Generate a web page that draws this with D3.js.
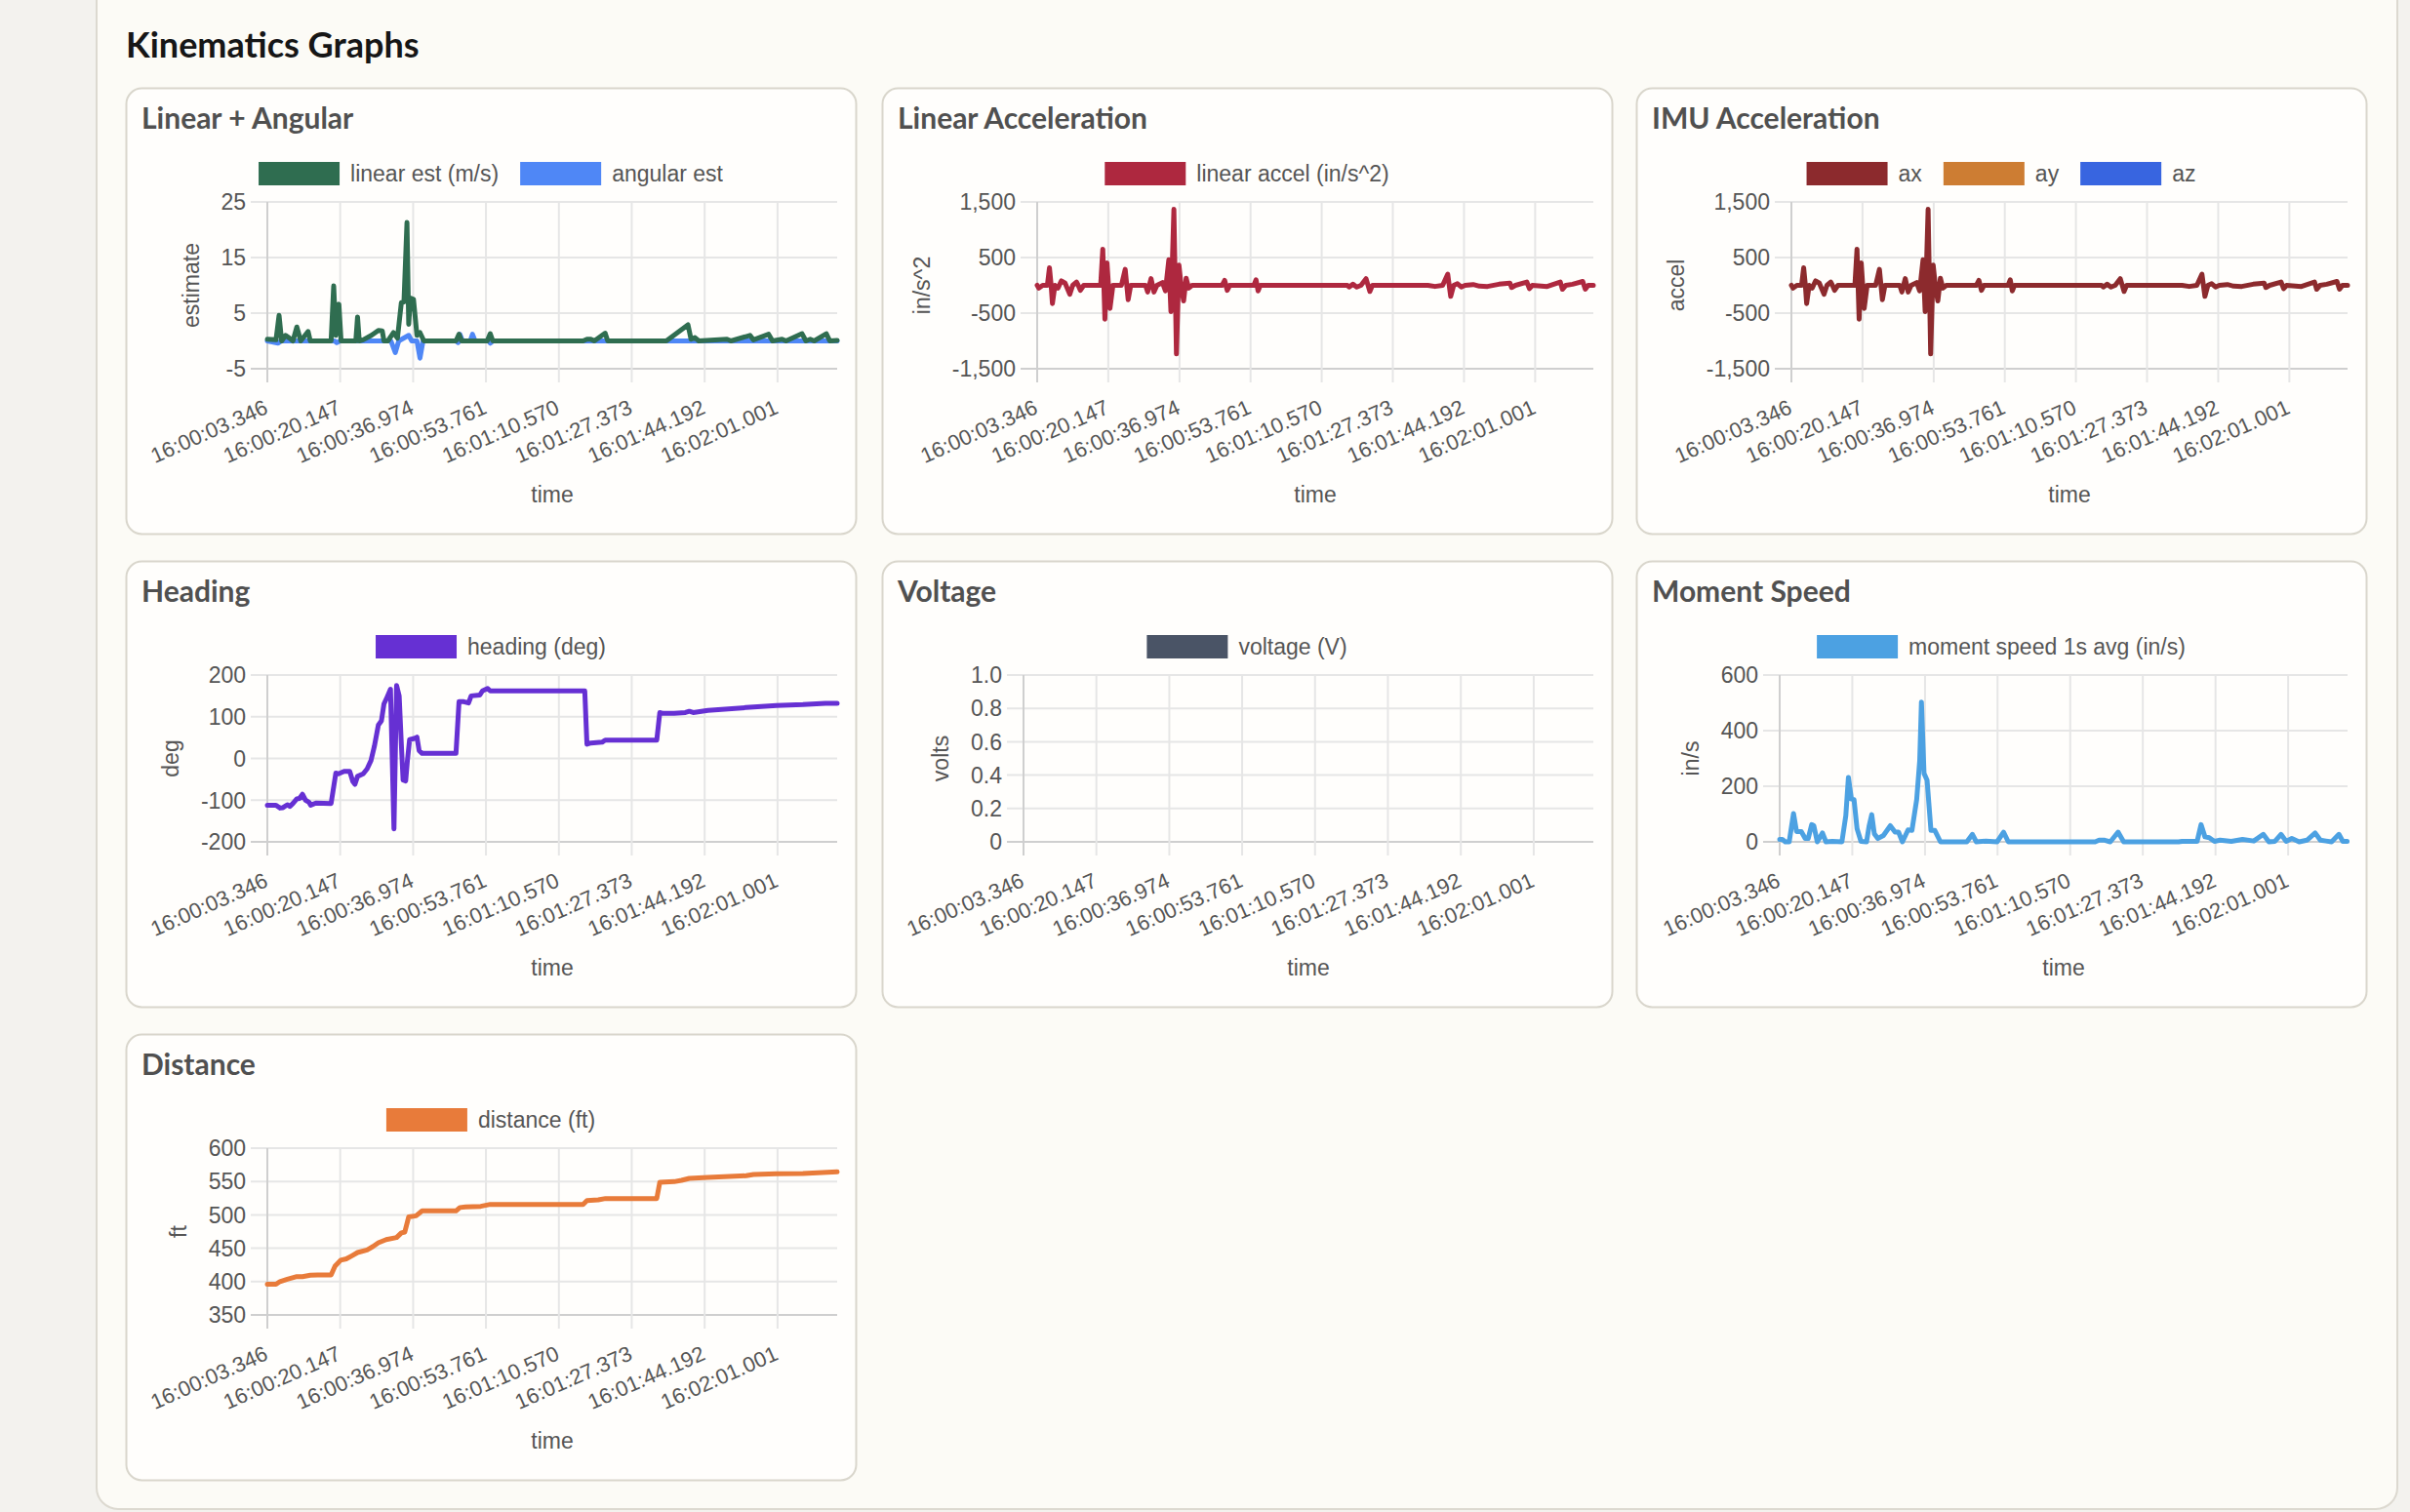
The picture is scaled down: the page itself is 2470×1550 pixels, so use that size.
<!DOCTYPE html>
<html>
<head>
<meta charset="utf-8">
<script src="https://cdn.jsdelivr.net/npm/d3@7"></script>
<style>
	body { margin: 0; background: #f3f2ee; }
	svg { display: block; }
	.tick-text { font-family: "Liberation Sans", Arial, Helvetica, sans-serif; font-size: 23px; fill: #555; }
	.head { font-family: Lato, "Open Sans", sans-serif; font-weight: 700; }
</style>
</head>
<body>
<svg id="page" width="2470" height="1550"></svg>
<script>

// time labels shown on every x axis
var xTickLabels = ["16:00:03.346", "16:00:20.147", "16:00:36.974", "16:00:53.761",
	"16:01:10.570", "16:01:27.373", "16:01:44.192", "16:02:01.001"];

// [seconds since 16:00:03.346, value]
var linearEst = [[0,0.3],[2.0,0.2],[2.7,4.6],[3.3,0],[4.2,1.0],[5.1,0.5],[5.9,0],[6.8,2.5],[7.7,0],[9.4,1.7],[9.9,0],
	[14.7,0],[15.3,9.9],[15.8,1.0],[16.5,6.6],[17.0,0],[20.4,0],[20.8,4.3],[21.2,0],[22.1,0.2],[24.0,1.0],[25.6,1.9],
	[26.5,1.8],[26.9,0],[27.8,0],[29.1,1.5],[30.0,0.5],[30.9,6.9],[31.5,7.0],[32.2,21.3],[32.6,3.0],[33.0,7.7],[33.7,7.5],
	[34.5,1.0],[35.2,1.5],[36.1,0],[43.5,0],[44.2,1.2],[44.8,0],[50.7,0],[51.4,1.3],[52.0,0],[72.8,0],[73.7,0.3],
	[74.6,0.3],[75.4,0],[77.9,1.4],[78.5,0],[92.0,0],[97.0,2.9],[97.7,0.3],[98.6,0.6],[99.5,0],[106.0,0.3],[106.9,0],
	[111.3,1.0],[112.1,0.2],[115.6,1.2],[116.5,0],[118.7,0.3],[119.6,0],[123.3,1.3],[124.2,0],[125.2,0.3],[126.1,0],
	[128.9,1.3],[129.7,0],[131.4,0.1]];

var angularEst = [[0,0],[2.5,-0.4],[3.2,0],[15.5,0],[16.0,-0.3],[16.8,0],[28.5,0],[29.5,-2.1],[30.3,0],[32.6,1.0],
	[33.3,0],[34.5,0],[35.2,-3.1],[35.9,0],[43.5,0],[44.0,-0.3],[44.4,1.2],[45.0,0],[46.8,0],[47.3,1.2],[47.9,0],
	[51.0,0],[51.4,-0.4],[52.0,0],[131.4,0]];

var linearAccel = [[0,0],[0.4,-50],[1.3,0],[2.4,0],[2.9,316],[3.3,0],[3.6,-328],[4.2,0],[4.9,-50],[5.7,80],[6.6,40],
	[7.7,-160],[8.4,0],[9.3,60],[9.7,0],[10.2,-90],[11.0,0],[15.0,0],[15.5,650],[16.0,-608],[16.5,404],[17.2,-415],
	[17.9,0],[19.9,0],[20.8,287],[21.5,-257],[22.1,0],[25.6,0],[26.1,-120],[26.9,120],[27.6,-120],[28.3,0],[29.6,50],
	[30.3,-100],[31.1,462],[31.6,-474],[32.3,1369],[32.9,-1234],[33.5,363],[34.0,0],[34.6,-281],[35.2,129],[35.8,-50],
	[36.6,0],[43.7,0],[44.3,90],[44.9,-90],[45.5,0],[51.2,0],[51.7,100],[52.2,-100],[52.7,0],[73.3,0],[73.7,-30],
	[74.6,20],[75.5,-30],[76.5,0],[77.7,120],[78.6,-110],[79.2,0],[92.3,0],[94.0,-20],[95.8,0],[97.0,200],[97.7,-199],
	[98.4,0],[99.3,30],[100.2,-30],[101.1,0],[103.0,15],[104.5,-15],[106.4,-20],[109.1,20],[111.7,40],[112.1,-40],
	[113.0,0],[115.7,60],[116.3,-60],[117.0,0],[120.5,-20],[123.6,60],[124.1,-70],[124.9,0],[126.5,20],[128.9,70],
	[129.5,-70],[130.2,0],[131.4,0]];

// IMU ax traces the same shape as linear accel; ay / az have no points on screen
var imuAx = linearAccel.slice();
var imuAy = [];
var imuAz = [];

var heading = [[0,-112],[2.0,-112],[2.9,-119],[3.6,-118],[4.6,-111],[5.2,-115],[5.9,-108],[6.8,-97],[7.4,-96],
	[8.1,-86],[8.8,-100],[9.6,-105],[10.0,-112],[11.2,-107],[14.7,-108],[15.8,-35],[16.4,-37],[17.7,-31],[19.0,-31],
	[19.7,-55],[20.2,-62],[20.8,-43],[22.1,-37],[23.0,-25],[23.9,-5],[24.7,30],[25.6,80],[26.3,90],[26.9,131],
	[27.5,144],[28.4,166],[29.2,-169],[29.8,175],[30.4,150],[30.9,34],[31.3,-52],[31.9,-54],[32.3,-5],[32.8,45],
	[33.9,48],[34.5,51],[35.0,19],[35.7,12],[43.5,12],[44.2,136],[45.3,136],[46.4,133],[47.0,150],[49.0,152],
	[49.6,162],[50.8,168],[51.4,162],[73.2,162],[73.7,34],[74.6,37],[77.2,39],[77.9,44],[89.8,44],[90.5,110],
	[91.2,108],[93.8,108],[96.4,110],[97.3,113],[98.2,110],[101.6,115],[110.4,122],[117.4,127],[123.5,129],
	[128.7,132],[131.4,132]];

var voltage = [];

var momentSpeed = [[0,9],[0.6,9],[1.3,0],[2.2,0],[3.2,102],[3.9,37],[5.0,37],[5.9,12],[6.6,12],[7.4,62],[7.9,58],
	[8.7,0],[9.9,32],[10.7,0],[12.2,2],[14.4,0],[15.3,94],[15.9,232],[16.6,154],[17.2,152],[17.9,47],[18.8,2],
	[20.1,0],[20.7,58],[21.3,98],[21.9,29],[22.7,12],[24.0,23],[25.6,58],[26.7,35],[27.5,35],[28.4,0],[29.7,43],
	[30.6,41],[31.7,152],[32.4,292],[32.8,503],[33.4,246],[34.1,222],[35.0,41],[35.9,41],[37.2,0],[43.3,0],[44.6,27],
	[45.5,0],[47.7,3],[50.3,0],[51.8,35],[52.9,0],[73.0,0],[73.9,6],[75.2,6],[76.5,0],[78.3,35],[79.6,0],[92.3,0],
	[93.1,2],[96.6,2],[97.5,62],[98.4,18],[99.4,15],[100.6,2],[101.9,6],[104.5,2],[107.1,9],[109.7,3],[111.9,27],
	[113.2,0],[114.6,2],[116.0,27],[117.2,2],[118.5,12],[120.2,0],[122.0,6],[123.9,32],[125.1,6],[126.4,3],[127.7,0],
	[129.4,27],[130.3,2],[131.3,2]];

var distance = [[0,396],[2.0,396],[2.9,400],[4.6,403.6],[6.8,407.5],[8.1,407.5],[9.9,409.5],[11.6,410],[14.7,410],
	[15.6,423],[16.9,432],[18.2,434],[19.5,438.7],[20.8,443.6],[23.0,447.5],[24.3,452.3],[25.6,458.2],[27.4,463],
	[29.8,466],[30.9,473],[31.7,474.3],[32.6,497],[34.3,498.6],[35.7,506],[43.5,506],[44.4,511],[45.7,511.8],
	[49.2,512.8],[51.4,515.7],[72.8,515.7],[73.7,521.5],[76.3,522.5],[78.0,524.5],[89.8,524.5],[90.5,548.8],
	[93.8,549.8],[95.5,551.8],[97.3,554.7],[101.6,556],[110.4,558.6],[112.1,560.5],[117.4,561.5],[123.5,562],
	[131.4,564.4]];


var fmtComma = function (d) { return d3.format(",")(d).replace("\u2212", "-"); };
var fmtPlain = function (d) { return String(d); };
var fmtVolt = function (d) { return d === 0 ? "0" : d3.format(".1f")(d); };

var charts = [
	{ title: "Linear + Angular", col: 0, row: 0, yLabel: "estimate", domain: [-5, 25], step: 10, fmt: fmtPlain,
		series: [{ name: "linear est (m/s)", color: "#2f6d50", data: linearEst },
			{ name: "angular est", color: "#4f87f6", data: angularEst }] },
	{ title: "Linear Acceleration", col: 1, row: 0, yLabel: "in/s^2", domain: [-1500, 1500], step: 1000, fmt: fmtComma, plotLeft: 159,
		series: [{ name: "linear accel (in/s^2)", color: "#ae283f", data: linearAccel }] },
	{ title: "IMU Acceleration", col: 2, row: 0, yLabel: "accel", domain: [-1500, 1500], step: 1000, fmt: fmtComma, plotLeft: 159,
		series: [{ name: "ax", color: "#8c2a2d", data: imuAx },
			{ name: "ay", color: "#cd7d33", data: imuAy },
			{ name: "az", color: "#3865e0", data: imuAz }] },
	{ title: "Heading", col: 0, row: 1, yLabel: "deg", domain: [-200, 200], step: 100, fmt: fmtPlain,
		series: [{ name: "heading (deg)", color: "#6630d3", data: heading }] },
	{ title: "Voltage", col: 1, row: 1, yLabel: "volts", domain: [0, 1], step: 0.2, fmt: fmtVolt,
		series: [{ name: "voltage (V)", color: "#4a5466", data: voltage }] },
	{ title: "Moment Speed", col: 2, row: 1, yLabel: "in/s", domain: [0, 600], step: 200, fmt: fmtPlain, plotLeft: 147,
		series: [{ name: "moment speed 1s avg (in/s)", color: "#4ca1e2", data: momentSpeed }] },
	{ title: "Distance", col: 0, row: 2, yLabel: "ft", domain: [350, 600], step: 50, fmt: fmtPlain,
		series: [{ name: "distance (ft)", color: "#e87b3a", data: distance }] }
];

var CARD = { w: 748, h: 457, cols: [129, 904, 1677], rows: [90, 575, 1060] };

function parseClock(s) {
	var p = s.split(":");
	return +p[0] * 3600 + +p[1] * 60 + +p[2];
}
var t0 = parseClock(xTickLabels[0]);
var tickTimes = xTickLabels.map(function (s) { return parseClock(s) - t0; });
var tEnd = d3.max(charts, function (c) {
	return d3.max(c.series, function (s) { return d3.max(s.data, function (d) { return d[0]; }); });
});

var svg = d3.select("#page");

svg.append("rect")
	.attr("width", 2470)
	.attr("height", 1550)
	.attr("fill", "#f3f2ee");

svg.append("rect")
	.attr("x", 99)
	.attr("y", -30)
	.attr("width", 2358)
	.attr("height", 1577)
	.attr("rx", 22)
	.attr("fill", "#fcfbf6")
	.attr("stroke", "#dcd9d0")
	.attr("stroke-width", 2);

svg.append("text")
	.attr("class", "head")
	.attr("x", 129)
	.attr("y", 59)
	.style("font-size", "36px")
	.attr("fill", "#161616")
	.text("Kinematics Graphs");

charts.forEach(drawCard);

function drawCard(c) {
	var g = svg.append("g")
		.attr("transform", "translate(" + CARD.cols[c.col] + "," + CARD.rows[c.row] + ")");

	g.append("rect")
		.attr("x", 0.5)
		.attr("y", 0.5)
		.attr("width", CARD.w)
		.attr("height", CARD.h)
		.attr("rx", 16)
		.attr("fill", "#fffefc")
		.attr("stroke", "#d9d6cc")
		.attr("stroke-width", 2);

	g.append("text")
		.attr("class", "head")
		.attr("x", 16)
		.attr("y", 42)
		.style("font-size", "30px")
		.attr("fill", "#505050")
		.text(c.title);

	var m = { left: c.plotLeft || 145, right: 729, top: 117, bottom: 288 };

	var x = d3.scaleLinear().domain([0, tEnd]).range([m.left, m.right]);
	var y = d3.scaleLinear().domain(c.domain).range([m.bottom, m.top]);
	var yTicks = d3.range(c.domain[0], c.domain[1] + c.step / 2, c.step).map(function (v) { return +v.toFixed(6); });

	// grid
	g.selectAll(".hgrid")
		.data(yTicks)
		.enter().append("line")
		.attr("x1", m.left - 17)
		.attr("x2", m.right)
		.attr("y1", function (d) { return y(d); })
		.attr("y2", function (d) { return y(d); })
		.attr("stroke", function (d, i) { return i === 0 ? "#cfcfcf" : "#e6e6e6"; })
		.attr("stroke-width", 2);

	g.selectAll(".vgrid")
		.data(tickTimes)
		.enter().append("line")
		.attr("x1", function (d) { return x(d); })
		.attr("x2", function (d) { return x(d); })
		.attr("y1", m.top)
		.attr("y2", m.bottom + 14)
		.attr("stroke", function (d, i) { return i === 0 ? "#cfcfcf" : "#e6e6e6"; })
		.attr("stroke-width", 2);

	// y tick labels
	var yl = g.selectAll(".ylab")
		.data(yTicks)
		.enter().append("text")
		.attr("class", "tick-text")
		.attr("x", m.left - 22)
		.attr("y", function (d) { return y(d); })
		.attr("dy", "0.36em")
		.style("text-anchor", "end")
		.text(c.fmt);

	var maxW = 0;
	yl.each(function () { maxW = Math.max(maxW, this.getComputedTextLength()); });

	g.append("text")
		.attr("class", "tick-text")
		.attr("transform", "translate(" + (m.left - 22 - maxW - 31) + "," + ((m.top + m.bottom) / 2) + ") rotate(-90)")
		.attr("dy", "0.36em")
		.style("text-anchor", "middle")
		.text(c.yLabel);

	// x tick labels
	g.selectAll(".xlab")
		.data(xTickLabels)
		.enter().append("text")
		.attr("class", "tick-text")
		.style("font-size", "22px")
		.attr("transform", function (d, i) {
			return "translate(" + (x(tickTimes[i]) + 2) + "," + (m.bottom + 45) + ") rotate(-24)";
		})
		.style("text-anchor", "end")
		.text(function (d) { return d; });

	g.append("text")
		.attr("class", "tick-text")
		.attr("x", (m.left + m.right) / 2)
		.attr("y", 417)
		.attr("dy", "0.36em")
		.style("text-anchor", "middle")
		.text("time");

	// legend, centred on the card
	var legend = g.append("g");
	var items = legend.selectAll(".item")
		.data(c.series)
		.enter().append("g");
	items.append("rect")
		.attr("width", 83)
		.attr("height", 24)
		.attr("y", 76)
		.attr("fill", function (d) { return d.color; });
	items.append("text")
		.attr("class", "tick-text")
		.attr("x", 94)
		.attr("y", 88)
		.attr("dy", "0.36em")
		.text(function (d) { return d.name; });
	var cursor = 0;
	items.each(function () {
		var w = 94 + d3.select(this).select("text").node().getComputedTextLength();
		d3.select(this).attr("transform", "translate(" + cursor + ",0)");
		cursor += w + 22;
	});
	legend.attr("transform", "translate(" + ((CARD.w - (cursor - 22)) / 2) + ",0)");

	// lines: first dataset ends up on top
	var line = d3.line()
		.x(function (d) { return x(d[0]); })
		.y(function (d) { return y(d[1]); });

	g.selectAll(".series")
		.data(c.series.slice().reverse().filter(function (s) { return s.data.length; }))
		.enter().append("path")
		.attr("d", function (s) { return line(s.data); })
		.attr("fill", "none")
		.attr("stroke", function (s) { return s.color; })
		.attr("stroke-width", 5)
		.attr("stroke-linejoin", "round")
		.attr("stroke-linecap", "round");
}

</script>
</body>
</html>
